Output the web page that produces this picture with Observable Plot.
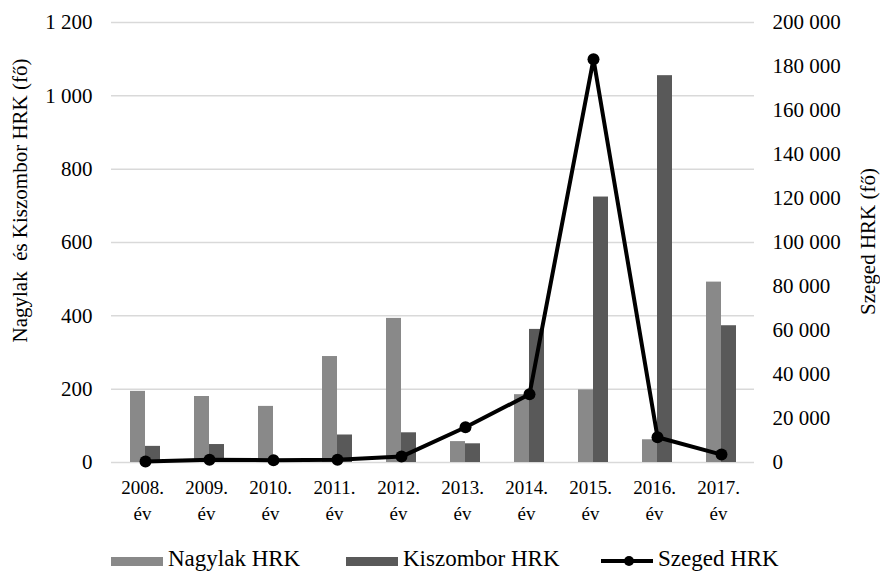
<!DOCTYPE html>
<html>
<head>
<meta charset="utf-8">
<script src="https://cdn.jsdelivr.net/npm/d3@7"></script>
<script src="https://cdn.jsdelivr.net/npm/@observablehq/plot@0.6"></script>
<style>
  html, body { margin: 0; padding: 0; background: #fff; }
  #wrap { width: 880px; height: 573px; position: relative; font-family: 'Liberation Serif', serif; }
  #legend { position: relative; height: 38px; font-size: 23px; color: #000; }
  .sw { position: absolute; top: 22px; height: 9px; }
  .lt { position: absolute; top: 11px; line-height: 26px; white-space: nowrap; }
</style>
</head>
<body>
<div id="wrap">
  <div id="chart"></div>
  <div id="legend"></div>
</div>
<script>
const years = ["2008", "2009", "2010", "2011", "2012", "2013", "2014", "2015", "2016", "2017"];
const nagylak = [194, 180, 153, 289, 393, 57, 185, 198, 62, 492];
const kiszombor = [44, 49, 0, 75, 81, 51, 363, 724, 1055, 373];
const szeged = [450, 1200, 1050, 1200, 2700, 16000, 31000, 183300, 11500, 3600];
const leftTicks = [0, 200, 400, 600, 800, 1000, 1200];
const rightTicks = [0, 20000, 40000, 60000, 80000, 100000, 120000, 140000, 160000, 180000, 200000];
const seriesNames = ["Nagylak HRK", "Kiszombor HRK", "Szeged HRK"];
const leftTitle = "Nagylak\u00A0 és Kiszombor HRK (fő)";
const rightTitle = "Szeged HRK (fő)";
const colors = ["#898989", "#595959", "#000000"];

const FONT = "'Liberation Serif', serif";
const k = 1200 / 200000; // right axis -> left axis units
const fmt = v => d3.format(",")(v).replace(/,/g, " ");
const rows = years.map((y, i) => ({year: y, nagylak: nagylak[i], kiszombor: kiszombor[i], szeged: szeged[i]}));

const chart = Plot.plot({
  width: 880,
  height: 535,
  marginLeft: 111,
  marginRight: 126,
  marginTop: 22,
  marginBottom: 73,
  style: {fontFamily: FONT, background: "#fff", color: "#000"},
  x: {type: "band", domain: years, paddingInner: 0.533, paddingOuter: 0.267, axis: null},
  y: {domain: [0, 1200], axis: null},
  marks: [
    Plot.gridY(leftTicks, {stroke: "#d9d9d9", strokeOpacity: 1, strokeWidth: 1.5}),
    Plot.barY(rows, {x: "year", y: "nagylak", fill: colors[0], insetRight: 15, insetLeft: 0}),
    Plot.barY(rows, {x: "year", y: "kiszombor", fill: colors[1], insetLeft: 15, insetRight: 0}),
    Plot.line(rows, {x: "year", y: d => d.szeged * k, stroke: colors[2], strokeWidth: 4}),
    Plot.dot(rows, {x: "year", y: d => d.szeged * k, r: 6, fill: colors[2], stroke: "none"}),
    Plot.axisY(leftTicks, {anchor: "left", tickSize: 0, tickPadding: 19, fontSize: 21, fontFamily: FONT, tickFormat: fmt, label: null}),
    Plot.axisY(rightTicks.map(v => v * k), {anchor: "right", tickSize: 0, tickPadding: 18, fontSize: 21, fontFamily: FONT, tickFormat: d => fmt(Math.round(d / k)), label: null}),
    Plot.axisX({tickSize: 0, tickPadding: 13, fontSize: 19, fontFamily: FONT, lineHeight: 1.37, dx: -3, tickFormat: d => d + ".\név", label: null}),
    Plot.text([leftTitle], {frameAnchor: "left", textAnchor: "middle", lineAnchor: "middle", rotate: -90, dx: -91, dy: -42, fontSize: 21, fontFamily: FONT, fill: "#000"}),
    Plot.text([rightTitle], {frameAnchor: "right", textAnchor: "middle", lineAnchor: "middle", rotate: -90, dx: 114, dy: -1, fontSize: 21, fontFamily: FONT, fill: "#000"})
  ]
});
document.getElementById("chart").appendChild(chart);

const legend = document.getElementById("legend");
const items = [
  {name: seriesNames[0], kind: "bar", color: colors[0], sx: 111, tx: 168},
  {name: seriesNames[1], kind: "bar", color: colors[1], sx: 346, tx: 403},
  {name: seriesNames[2], kind: "line", color: colors[2], sx: 601, tx: 658}
];
for (const it of items) {
  if (it.kind === "bar") {
    const s = document.createElement("div");
    s.className = "sw";
    s.style.left = it.sx + "px";
    s.style.width = "52px";
    s.style.background = it.color;
    legend.appendChild(s);
  } else {
    const ns = "http://www.w3.org/2000/svg";
    const svg = document.createElementNS(ns, "svg");
    svg.setAttribute("width", 54);
    svg.setAttribute("height", 20);
    svg.style.position = "absolute";
    svg.style.left = it.sx + "px";
    svg.style.top = "16px";
    const ln = document.createElementNS(ns, "line");
    ln.setAttribute("x1", 0); ln.setAttribute("x2", 52);
    ln.setAttribute("y1", 10); ln.setAttribute("y2", 10);
    ln.setAttribute("stroke", it.color); ln.setAttribute("stroke-width", 4);
    svg.appendChild(ln);
    const c = document.createElementNS(ns, "circle");
    c.setAttribute("cx", 28); c.setAttribute("cy", 10); c.setAttribute("r", 5);
    c.setAttribute("fill", it.color);
    svg.appendChild(c);
    legend.appendChild(svg);
  }
  const t = document.createElement("div");
  t.className = "lt";
  t.style.left = it.tx + "px";
  t.textContent = it.name;
  legend.appendChild(t);
}
</script>
</body>
</html>
